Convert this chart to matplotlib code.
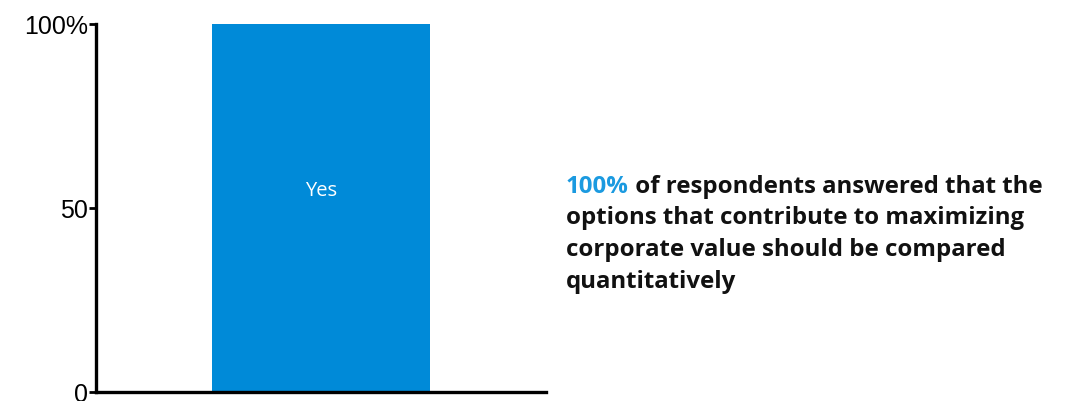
import matplotlib
matplotlib.use("Agg")
import matplotlib.pyplot as plt

categories = ["Yes"]
values = [100]
y_ticks = [0, 50, 100]
y_tick_labels = ["0", "50", "100%"]
headline_value = "100%"
headline_rest = " of respondents answered that the"
body_lines = [
    "options that contribute to maximizing",
    "corporate value should be compared",
    "quantitatively",
]

BAR_BLUE = "#008AD8"
TEXT_BLUE = "#1B9AE0"

fig = plt.figure(figsize=(10.71, 4.01), dpi=100)
ax = fig.add_axes([96 / 1071, 9 / 401, 450 / 1071, 368 / 401])

bars = ax.bar(range(len(categories)), values, width=0.973, color=BAR_BLUE)
for rect, name in zip(bars, categories):
    ax.text(rect.get_x() + rect.get_width() / 2, 54.5, name,
            ha="center", va="center", color="white",
            fontsize=14.5, family="Open Sans")

ax.set_xlim(-1, 1)
ax.set_ylim(0, 100)
ax.set_yticks(y_ticks)
ax.set_yticklabels(y_tick_labels, family="Liberation Sans", fontsize=18)
ax.set_xticks([])
for side in ("top", "right"):
    ax.spines[side].set_visible(False)
for side in ("left", "bottom"):
    ax.spines[side].set_linewidth(2.4)
ax.tick_params(axis="y", length=5, width=2, pad=1, direction="out")

# Annotation block on the right
fs = 17.3
x0, y0 = 566 / 1071, 1 - 187 / 401
line_step = 31.5 / 401
t = fig.text(x0, y0, headline_value, color=TEXT_BLUE, fontsize=fs,
             fontweight="bold", family="Open Sans", va="center", ha="left")
fig.canvas.draw()
w = t.get_window_extent(renderer=fig.canvas.get_renderer()).width
fig.text(x0 + w / 1071, y0, headline_rest, color="#111111", fontsize=fs,
         fontweight="bold", family="Open Sans", va="center", ha="left")
for i, line in enumerate(body_lines, start=1):
    fig.text(x0, y0 - i * line_step, line, color="#111111", fontsize=fs,
             fontweight="bold", family="Open Sans", va="center", ha="left")

fig.savefig("out.png", dpi=100)
